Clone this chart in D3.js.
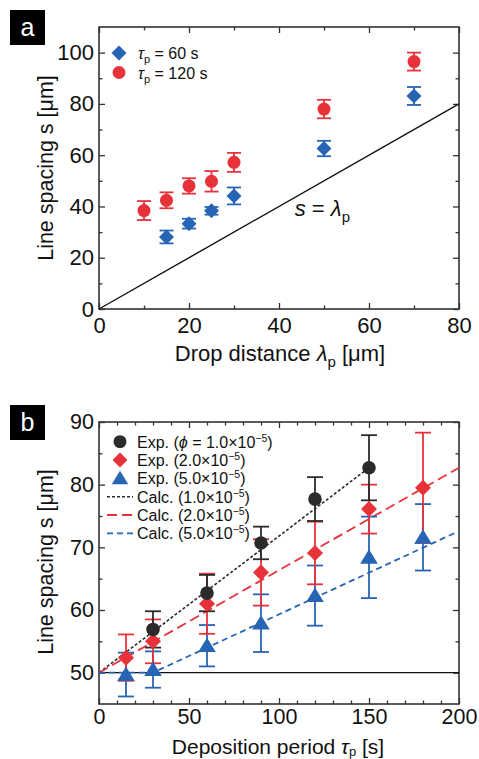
<!DOCTYPE html>
<html><head><meta charset="utf-8">
<script src="https://cdn.jsdelivr.net/npm/d3@7"></script>
<style>
body{margin:0;background:#fff;}
svg{font-family:"Liberation Sans",Arial,Helvetica,sans-serif;}
</style></head>
<body><svg id="c" width="479" height="759"></svg>
<script>
// ---------- Panel a data ----------
const aX60 = [15, 20, 25, 30, 50, 70];
const aY60 = [28.1, 33.3, 38.3, 44.1, 62.6, 83.1];
const aE60 = [2.5, 1.9, 1.5, 3.3, 3.0, 3.5];
const aX120 = [10, 15, 20, 25, 30, 50, 70];
const aY120 = [38.4, 42.4, 48.0, 49.8, 57.2, 78.0, 96.5];
const aE120 = [3.7, 3.1, 3.0, 4.0, 3.7, 3.6, 3.5];
const aLineX = [0, 80];
const aLineY = [0, 80];
const aXTicks = [0, 20, 40, 60, 80];
const aYTicks = [0, 20, 40, 60, 80, 100];

// ---------- Panel b data ----------
const bX1 = [30, 60, 90, 120, 150];
const bY1 = [56.9, 62.7, 70.7, 77.7, 82.7];
const bE1 = [2.9, 2.9, 2.6, 3.5, 5.2];
const bX2 = [15, 30, 60, 90, 120, 150, 180];
const bY2 = [52.4, 55.0, 61.0, 66.0, 69.1, 76.1, 79.5];
const bE2 = [3.7, 3.5, 4.8, 5.3, 5.0, 3.9, 8.8];
const bX5 = [15, 30, 60, 90, 120, 150, 180];
const bY5 = [49.7, 50.5, 54.3, 57.9, 62.3, 68.4, 71.6];
const bE5 = [3.5, 2.9, 3.3, 4.6, 4.8, 6.5, 5.3];
const calc1X = [0, 150], calc1Y = [50, 82.7];
const calc2X = [0, 200], calc2Y = [50, 82.7];
const calc5X = [0, 30, 200], calc5Y = [50, 50, 72.6];
const bXTicks = [0, 50, 100, 150, 200];
const bYTicks = [50, 60, 70, 80, 90];

const BLUE = "#2764b4", RED = "#e8323a", BLACK = "#2b2b2b", AX = "#333";

const svg = d3.select("#c");

function frame(g, x, y, xMaj, xMin, yMaj, yMin, W, H, fs, xlabOff) {
  const mk = (axis, tr, vals, size, labels) => {
    const a = axis.tickValues(vals).tickSizeInner(size).tickSizeOuter(0);
    if (!labels) a.tickFormat("");
    const s = g.append("g").attr("transform", tr).call(a);
    s.select(".domain").remove();
    s.selectAll("line").attr("stroke", AX).attr("stroke-width", 1.3);
    s.selectAll("text").attr("fill", "#111").attr("font-size", fs);
    return s;
  };
  const bx = mk(d3.axisBottom(x), `translate(0,${H})`, xMaj, -6, true);
  bx.selectAll("text").attr("dy", "0.62em").attr("y", xlabOff);
  mk(d3.axisBottom(x), `translate(0,${H})`, xMin, -3.5, false);
  mk(d3.axisTop(x), `translate(0,0)`, xMaj, -6, false);
  mk(d3.axisTop(x), `translate(0,0)`, xMin, -3.5, false);
  const ly = mk(d3.axisLeft(y), `translate(0,0)`, yMaj, -6, true);
  ly.selectAll("text").attr("x", -5);
  mk(d3.axisLeft(y), `translate(0,0)`, yMin, -3.5, false);
  mk(d3.axisRight(y), `translate(${W},0)`, yMaj, -6, false);
  mk(d3.axisRight(y), `translate(${W},0)`, yMin, -3.5, false);
  g.append("rect").attr("width", W).attr("height", H).attr("fill", "none")
    .attr("stroke", AX).attr("stroke-width", 1.6);
}

function errbars(g, x, y, xs, ys, es, color, cap) {
  xs.forEach((xv, i) => {
    const cx = x(xv), t = y(ys[i] + es[i]), b = y(ys[i] - es[i]);
    const gg = g.append("g").attr("stroke", color).attr("stroke-width", 1.8);
    gg.append("line").attr("x1", cx).attr("x2", cx).attr("y1", t).attr("y2", b);
    gg.append("line").attr("x1", cx - cap).attr("x2", cx + cap).attr("y1", t).attr("y2", t);
    gg.append("line").attr("x1", cx - cap).attr("x2", cx + cap).attr("y1", b).attr("y2", b);
  });
}
const diamond = (r) => `M0,${-r}L${r},0L0,${r}L${-r},0Z`;
const triangle = (r) => `M0,${-r}L${r*1.1},${r*0.8}L${-r*1.1},${r*0.8}Z`;

function panelLabel(y0, txt) {
  svg.append("rect").attr("x", 10).attr("y", y0).attr("width", 35).attr("height", 35).attr("fill", "#000");
  svg.append("text").attr("x", 27.5).attr("y", y0 + 26).attr("text-anchor", "middle")
    .attr("fill", "#fff").attr("font-size", 25).text(txt);
}

// ================= Panel a =================
{
  const L = 99, T = 27, W = 360, H = 282;
  const g = svg.append("g").attr("transform", `translate(${L},${T})`);
  const x = d3.scaleLinear().domain([0, 80]).range([0, W]);
  const y = d3.scaleLinear().domain([0, 110]).range([H, 0]);
  frame(g, x, y, aXTicks, d3.range(10, 80, 20), aYTicks, d3.range(10, 110, 20), W, H, 22, 10);
  g.append("path").attr("d", d3.line()(aLineX.map((v, i) => [x(v), y(aLineY[i])])))
    .attr("stroke", "#111").attr("stroke-width", 1.4).attr("fill", "none");
  errbars(g, x, y, aX120, aY120, aE120, RED, 7);
  errbars(g, x, y, aX60, aY60, aE60, BLUE, 7);
  aX120.forEach((v, i) => g.append("circle").attr("cx", x(v)).attr("cy", y(aY120[i])).attr("r", 6.5).attr("fill", RED));
  aX60.forEach((v, i) => g.append("path").attr("d", diamond(7.5)).attr("transform", `translate(${x(v)},${y(aY60[i])})`).attr("fill", BLUE));
  // annotation s = λp
  const ann = g.append("text").attr("x", x(43.5)).attr("y", y(36.3)).attr("font-size", 22).attr("fill", "#111");
  ann.append("tspan").attr("font-style", "italic").text("s");
  ann.append("tspan").text(" = ");
  ann.append("tspan").attr("font-style", "italic").text("λ");
  ann.append("tspan").attr("font-size", 15).attr("dy", 6).text("p");
  // legend
  const lg = svg.append("g");
  lg.append("path").attr("d", diamond(7.5)).attr("transform", `translate(119,53)`).attr("fill", BLUE);
  lg.append("circle").attr("cx", 119).attr("cy", 72.5).attr("r", 6.5).attr("fill", RED);
  [["60", 53], ["120", 72.5]].forEach(([v, yy]) => {
    const t = lg.append("text").attr("x", 138).attr("y", yy + 6).attr("font-size", 16).attr("fill", "#111");
    t.append("tspan").attr("font-style", "italic").text("τ");
    t.append("tspan").attr("font-size", 11).attr("dy", 4).text("p");
    t.append("tspan").attr("dy", -4).text(` = ${v} s`);
  });
  // axis titles
  const xt = svg.append("text").attr("x", 280).attr("y", 361).attr("text-anchor", "middle").attr("font-size", 22).attr("fill", "#111");
  xt.append("tspan").text("Drop distance ");
  xt.append("tspan").attr("font-style", "italic").text("λ");
  xt.append("tspan").attr("font-size", 15).attr("dy", 6).text("p");
  xt.append("tspan").attr("dy", -6).text(" [μm]");
  svg.append("text").attr("transform", "translate(53,168) rotate(-90)").attr("text-anchor", "middle")
    .attr("font-size", 21.5).attr("fill", "#111").text("Line spacing s [μm]");
  panelLabel(10, "a");
}

// ================= Panel b =================
{
  const L = 99, T = 422, W = 360, H = 282;
  const g = svg.append("g").attr("transform", `translate(${L},${T})`);
  const x = d3.scaleLinear().domain([0, 200]).range([0, W]);
  const y = d3.scaleLinear().domain([45, 90]).range([H, 0]);
  const xMin = d3.range(10, 200, 10).filter(v => v % 50 !== 0);
  frame(g, x, y, bXTicks, xMin, bYTicks, [55, 65, 75, 85], W, H, 21.5, 7);
  g.append("line").attr("x1", 0).attr("x2", W).attr("y1", y(50)).attr("y2", y(50)).attr("stroke", "#111").attr("stroke-width", 1.4);
  const line = (xs, ys) => d3.line()(xs.map((v, i) => [x(v), y(ys[i])]));
  g.append("path").attr("d", line(calc1X, calc1Y)).attr("stroke", BLACK).attr("stroke-width", 1.6).attr("stroke-dasharray", "3,2").attr("fill", "none");
  g.append("path").attr("d", line(calc2X, calc2Y)).attr("stroke", RED).attr("stroke-width", 1.8).attr("stroke-dasharray", "10,5").attr("fill", "none");
  g.append("path").attr("d", line(calc5X, calc5Y)).attr("stroke", BLUE).attr("stroke-width", 1.8).attr("stroke-dasharray", "6,4").attr("fill", "none");
  errbars(g, x, y, bX5, bY5, bE5, BLUE, 8);
  errbars(g, x, y, bX2, bY2, bE2, RED, 8);
  errbars(g, x, y, bX1, bY1, bE1, BLACK, 8);
  bX5.forEach((v, i) => g.append("path").attr("d", triangle(8)).attr("transform", `translate(${x(v)},${y(bY5[i])})`).attr("fill", BLUE));
  bX2.forEach((v, i) => g.append("path").attr("d", diamond(8)).attr("transform", `translate(${x(v)},${y(bY2[i])})`).attr("fill", RED));
  bX1.forEach((v, i) => g.append("circle").attr("cx", x(v)).attr("cy", y(bY1[i])).attr("r", 6.8).attr("fill", BLACK));
  // legend
  const lg = svg.append("g");
  const rows = [441.7, 460, 478.3, 496.7, 515, 533.3];
  lg.append("circle").attr("cx", 120).attr("cy", rows[0]).attr("r", 6.5).attr("fill", BLACK);
  lg.append("path").attr("d", diamond(7.5)).attr("transform", `translate(120,${rows[1]})`).attr("fill", RED);
  lg.append("path").attr("d", triangle(7.5)).attr("transform", `translate(120,${rows[2]})`).attr("fill", BLUE);
  [[BLACK, "3,2", 1.6], [RED, "10,5", 1.8], [BLUE, "6,4", 1.8]].forEach(([c, d, w], i) => {
    lg.append("line").attr("x1", 107).attr("x2", 133).attr("y1", rows[3 + i]).attr("y2", rows[3 + i])
      .attr("stroke", c).attr("stroke-dasharray", d).attr("stroke-width", w);
  });
  const labels = [["Exp. (", true, "1.0"], ["Exp. (", false, "2.0"], ["Exp. (", false, "5.0"],
                  ["Calc. (", false, "1.0"], ["Calc. (", false, "2.0"], ["Calc. (", false, "5.0"]];
  labels.forEach(([pre, phi, v], i) => {
    const t = lg.append("text").attr("x", 137).attr("y", rows[i] + 6).attr("font-size", 16).attr("fill", "#111");
    t.append("tspan").text(pre);
    if (phi) { t.append("tspan").attr("font-style", "italic").text("ϕ"); t.append("tspan").text(" = "); }
    t.append("tspan").text(`${v}×10`);
    t.append("tspan").attr("font-size", 10.5).attr("dy", -6).text("−5");
    t.append("tspan").attr("dy", 6).text(")");
  });
  const xt = svg.append("text").attr("x", 278).attr("y", 753.5).attr("text-anchor", "middle").attr("font-size", 21).attr("fill", "#111");
  xt.append("tspan").text("Deposition period  ");
  xt.append("tspan").attr("font-style", "italic").text("τ");
  xt.append("tspan").attr("font-size", 13).attr("dy", 2).text("p");
  xt.append("tspan").attr("dy", -2).text(" [s]");
  svg.append("text").attr("transform", "translate(53,562) rotate(-90)").attr("text-anchor", "middle")
    .attr("font-size", 21.5).attr("fill", "#111").text("Line spacing s [μm]");
  panelLabel(405, "b");
}
</script></body></html>
